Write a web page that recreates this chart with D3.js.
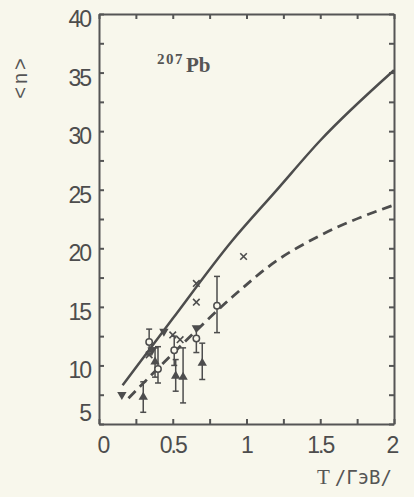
<!DOCTYPE html>
<meta charset="utf-8">
<style>
    body { margin: 0; background: #f8f7ec; }
    svg { display: block; }
    .tick-label { font: 23px "Liberation Sans", sans-serif; fill: #4d4d4d; letter-spacing: -2px; }
    .frame line, .frame path { stroke: #555; stroke-width: 2; }
</style>
<svg width="414" height="497"></svg>
<script src="https://cdn.jsdelivr.net/npm/d3@7"></script>
<script>

    // curves: T (GeV), <n>
    var solidT = [0.16, 0.5, 0.9, 1.2, 1.5, 2.0];
    var solidN = [8.3, 14.0, 20.6, 24.9, 29.2, 35.2];
    var dashT = [0.2, 0.5, 0.9, 1.2, 1.5, 2.0];
    var dashN = [7.2, 11.0, 15.8, 18.9, 21.1, 23.7];

    // open circles with error bars: T, n, low, high
    var circT = [0.34, 0.40, 0.51, 0.66, 0.80];
    var circN = [12.0, 9.7, 11.3, 12.3, 15.1];
    var circLo = [10.9, 8.5, 10.0, 11.1, 12.8];
    var circHi = [13.1, 11.6, 12.5, 13.3, 17.6];

    // filled triangles with error bars
    var triT = [0.30, 0.38, 0.52, 0.57, 0.70];
    var triN = [7.3, 10.3, 9.1, 9.0, 10.2];
    var triLo = [6.0, 9.0, 7.8, 6.8, 8.8];
    var triHi = [8.6, 11.5, 10.5, 11.5, 11.9];

    // filled down triangles
    var downT = [0.155, 0.44, 0.36, 0.66];
    var downN = [7.5, 12.9, 11.3, 13.2];

    // crosses
    var crossT = [0.98, 0.66, 0.66, 0.50, 0.55, 0.34];
    var crossN = [19.3, 15.4, 17.0, 12.6, 12.2, 10.9];

    var xTicks = [0, 0.5, 1, 1.5, 2];
    var xTickLabels = ["0", "0.5", "1", "1.5", "2"];
    var yTicks = [5, 10, 15, 20, 25, 30, 35, 40];

    var ink = "#4d4d4d";
    var margin = {top: 14, right: 20, bottom: 73, left: 99},
        width = 414 - margin.left - margin.right,
        height = 497 - margin.top - margin.bottom;

    var svg = d3.select("svg");
    var g = svg.append("g").attr("transform", "translate(" + margin.left + "," + margin.top + ")");

    var x = d3.scaleLinear().domain([0, 2]).range([0, width]);
    var y = d3.scaleLinear().domain([5, 40]).range([height, 0]);

    var minorX = d3.range(0, 2.01, 0.25);
    var minorY = d3.range(5, 40.01, 2.5);

    // frame with inward ticks on all four sides
    g.append("g").attr("class", "frame")
        .attr("transform", "translate(0," + height + ")")
        .call(d3.axisBottom(x).tickValues(minorX).tickSize(-5).tickSizeOuter(0).tickFormat(""));
    g.append("g").attr("class", "frame")
        .call(d3.axisTop(x).tickValues(minorX).tickSize(-5).tickSizeOuter(0).tickFormat(""));
    g.append("g").attr("class", "frame")
        .call(d3.axisLeft(y).tickValues(minorY).tickSize(-5).tickSizeOuter(0).tickFormat(""));
    g.append("g").attr("class", "frame")
        .attr("transform", "translate(" + width + ",0)")
        .call(d3.axisRight(y).tickValues(minorY).tickSize(-5).tickSizeOuter(0).tickFormat(""));

    // tick labels
    g.selectAll(".ylab").data(yTicks).enter().append("text")
        .attr("class", "tick-label")
        .attr("x", -9)
        .attr("y", function(d) { return d === 5 ? y(d) - 11 : y(d) + 5; })
        .attr("dy", "0.35em")
        .attr("text-anchor", "end")
        .text(function(d) { return d; });

    g.selectAll(".xlab").data(xTicks).enter().append("text")
        .attr("class", "tick-label")
        .attr("x", function(d) { return x(d) + (d === 0 ? 4 : d === 2 ? -2 : 0); })
        .attr("y", height + 29)
        .attr("text-anchor", "middle")
        .text(function(d, i) { return xTickLabels[i]; });

    // curves
    var line = d3.line()
        .x(function(d) { return x(d[0]); })
        .y(function(d) { return y(d[1]); })
        .curve(d3.curveMonotoneX);

    g.append("path")
        .datum(d3.zip(solidT, solidN))
        .attr("d", line)
        .attr("fill", "none")
        .attr("stroke", ink)
        .attr("stroke-width", 2.5);

    g.append("path")
        .datum(d3.zip(dashT, dashN))
        .attr("d", line)
        .attr("fill", "none")
        .attr("stroke", ink)
        .attr("stroke-width", 2.8)
        .attr("stroke-dasharray", "10,6");

    // error bars
    function errBars(ts, lo, hi) {
        var data = d3.zip(ts, lo, hi);
        var eb = g.append("g").attr("stroke", ink).attr("stroke-width", 1.5);
        eb.selectAll(".v").data(data).enter().append("line")
            .attr("x1", function(d) { return x(d[0]); })
            .attr("x2", function(d) { return x(d[0]); })
            .attr("y1", function(d) { return y(d[1]); })
            .attr("y2", function(d) { return y(d[2]); });
        [1, 2].forEach(function(k) {
            eb.selectAll(".c" + k).data(data).enter().append("line")
                .attr("x1", function(d) { return x(d[0]) - 3; })
                .attr("x2", function(d) { return x(d[0]) + 3; })
                .attr("y1", function(d) { return y(d[k]); })
                .attr("y2", function(d) { return y(d[k]); });
        });
    }
    errBars(circT, circLo, circHi);
    errBars(triT, triLo, triHi);

    g.selectAll(".circ").data(d3.zip(circT, circN)).enter().append("circle")
        .attr("cx", function(d) { return x(d[0]); })
        .attr("cy", function(d) { return y(d[1]); })
        .attr("r", 3.2)
        .attr("fill", "#f8f7ec")
        .attr("stroke", ink)
        .attr("stroke-width", 1.5);

    var triUp = d3.symbol().type(d3.symbolTriangle).size(38);
    g.selectAll(".tri").data(d3.zip(triT, triN)).enter().append("path")
        .attr("d", triUp)
        .attr("transform", function(d) { return "translate(" + x(d[0]) + "," + y(d[1]) + ")"; })
        .attr("fill", ink);

    g.selectAll(".down").data(d3.zip(downT, downN)).enter().append("path")
        .attr("d", triUp)
        .attr("transform", function(d) { return "translate(" + x(d[0]) + "," + y(d[1]) + ") rotate(180)"; })
        .attr("fill", ink);

    var cross = d3.symbol().type(d3.symbolX).size(30);
    g.selectAll(".cross").data(d3.zip(crossT, crossN)).enter().append("path")
        .attr("d", cross)
        .attr("transform", function(d) { return "translate(" + x(d[0]) + "," + y(d[1]) + ")"; })
        .attr("fill", "none")
        .attr("stroke", ink)
        .attr("stroke-width", 1.6);

    // labels
    svg.append("text")
        .attr("transform", "translate(27,77) rotate(-90)")
        .attr("text-anchor", "middle")
        .attr("font-family", "Liberation Sans, sans-serif")
        .attr("font-size", 20)
        .attr("letter-spacing", 3)
        .attr("fill", "#555")
        .text("<n>");

    var iso = svg.append("text")
        .attr("x", 157)
        .attr("y", 72)
        .attr("font-family", "Liberation Serif, serif")
        .attr("font-weight", "bold")
        .attr("fill", "#555");
    iso.append("tspan").attr("font-size", 15).attr("letter-spacing", 1.5).attr("dy", -8).text("207");
    iso.append("tspan").attr("font-size", 21).attr("dx", 2).attr("dy", 8).text("Pb");

    var xl = svg.append("text")
        .attr("x", 317)
        .attr("y", 484)
        .attr("fill", "#555")
        .attr("font-size", 21);
    xl.append("tspan").attr("font-family", "Liberation Serif, serif").text("T ");
    xl.append("tspan").attr("font-family", "DejaVu Sans Mono, monospace").attr("font-size", 19).text("/ГэВ/");

</script>
